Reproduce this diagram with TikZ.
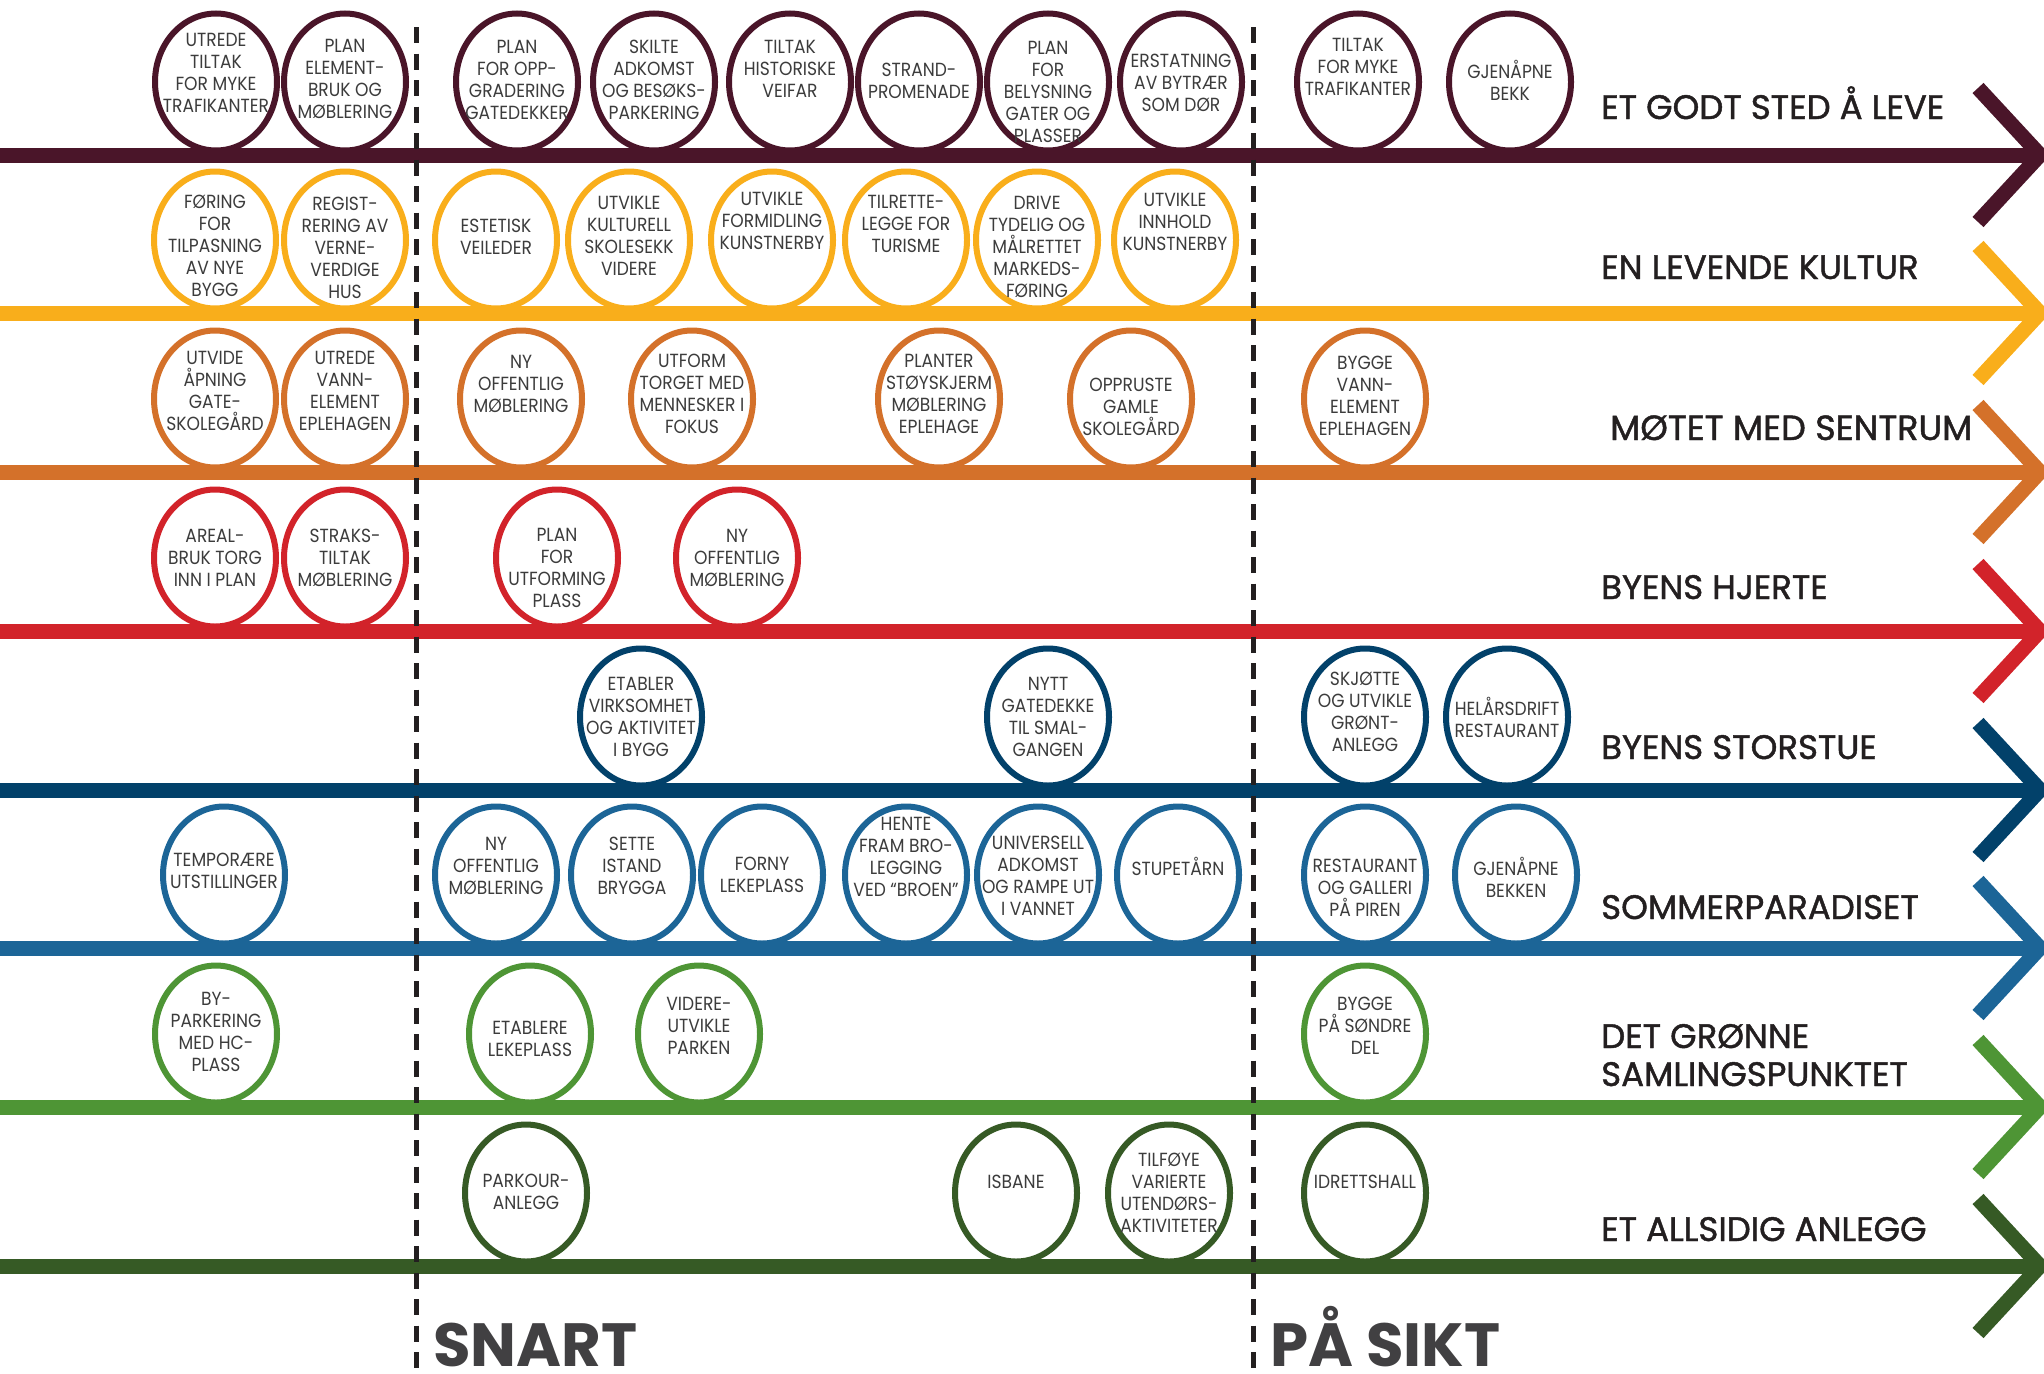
\documentclass[tikz,border=0pt]{standalone}
\usepackage{fontspec}
\setmainfont{Poppins}
\newfontfamily\ellfont{Poppins}[FakeStretch=0.9]
\newfontfamily\hdfont{Poppins}[FakeBold=1.3]
\usetikzlibrary{shapes.geometric,calc}
\definecolor{c1}{HTML}{4A1529}
\definecolor{c2}{HTML}{F9AE1B}
\definecolor{c3}{HTML}{D4712A}
\definecolor{c4}{HTML}{D2232A}
\definecolor{c5}{HTML}{02416A}
\definecolor{c6}{HTML}{1C6597}
\definecolor{c7}{HTML}{4E9535}
\definecolor{c8}{HTML}{365A25}
\definecolor{txtc}{HTML}{3C3C3C}
\definecolor{hdc}{HTML}{231F20}
\definecolor{bigc}{HTML}{414042}
\tikzset{
 ov/.style={ellipse, draw=#1, line width=6pt, fill=white, minimum width=122pt, minimum height=137pt, inner sep=0pt},
 tx/.style={align=center, inner sep=0pt, text=txtc, font=\ellfont\fontsize{19}{22}\selectfont},
 hd/.style={anchor=base west, inner sep=0pt, text=hdc, font=\hdfont\fontsize{34}{38}\selectfont},
 big/.style={anchor=base west, inner sep=0pt, text=bigc, font=\bfseries\fontsize{61}{70}\selectfont},
 rowline/.style={line width=15pt, draw=#1},
 timedash/.style={line width=5pt, draw=hdc, dash pattern=on 16pt off 10.5pt}
}
\newcommand\myov[6]{\node[ov=#2] (#1) at (#3,#4) {}; \node[tx] (#1t) at ($(#1)+(0,#5)$) {#6};}
\begin{document}
\begin{tikzpicture}[x=1pt,y=-1pt]
\useasboundingbox (0,0) rectangle (2044,1373);
\clip (0,0) rectangle (2044,1373);
\foreach \yy/\cc [count=\i] in {155/c1,313/c2,472/c3,631/c4,790/c5,948/c6,1107/c7,1266/c8}{
  \coordinate (ls\i) at (0,\yy);
  \coordinate (le\i) at (2032,\yy);
  \coordinate (ct\i) at (1978,\yy-67);
  \coordinate (cv\i) at (2040,\yy);
  \coordinate (cb\i) at (1978,\yy+67);
  \draw[rowline=\cc] (ls\i) -- (le\i);
  \draw[rowline=\cc] (ct\i) -- (cv\i) -- (cb\i);
}
% row 1
\myov{a1}{c1}{216}{82}{-9}{UTREDE\\TILTAK\\FOR MYKE\\TRAFIKANTER}
\myov{a2}{c1}{345}{82}{-3}{PLAN\\ELEMENT-\\BRUK OG\\MØBLERING}
\myov{a3}{c1}{517}{82}{-2}{PLAN\\FOR OPP-\\GRADERING\\GATEDEKKER}
\myov{a4}{c1}{654}{82}{-2}{SKILTE\\ADKOMST\\OG BESØKS-\\PARKERING}
\myov{a5}{c1}{790}{82}{-13}{TILTAK\\HISTORISKE\\VEIFAR}
\myov{a6}{c1}{919}{82}{-1}{STRAND-\\PROMENADE}
\myov{a7}{c1}{1048}{82}{10}{PLAN\\FOR\\BELYSNING\\GATER OG\\PLASSER}
\myov{a8}{c1}{1181}{82}{1}{ERSTATNING\\AV BYTRÆR\\SOM DØR}
\myov{a9}{c1}{1358}{82}{-15}{TILTAK\\FOR MYKE\\TRAFIKANTER}
\myov{a10}{c1}{1510}{82}{-2}{GJENÅPNE\\BEKK}
% row 2
\myov{b1}{c2}{215}{240}{6}{FØRING\\FOR\\TILPASNING\\AV NYE\\BYGG}
\myov{b2}{c2}{345}{240}{8}{REGIST-\\RERING AV\\VERNE-\\VERDIGE\\HUS}
\myov{b3}{c2}{496}{240}{-3}{ESTETISK\\VEILEDER}
\myov{b4}{c2}{629}{240}{-4}{UTVIKLE\\KULTURELL\\SKOLESEKK\\VIDERE}
\myov{b5}{c2}{772}{240}{-19}{UTVIKLE\\FORMIDLING\\KUNSTNERBY}
\myov{b6}{c2}{906}{240}{-16}{TILRETTE-\\LEGGE FOR\\TURISME}
\myov{b7}{c2}{1037}{240}{7}{DRIVE\\TYDELIG OG\\MÅLRETTET\\MARKEDS-\\FØRING}
\myov{b8}{c2}{1175}{240}{-18}{UTVIKLE\\INNHOLD\\KUNSTNERBY}
% row 3
\myov{c1}{c3}{215}{399}{-8}{UTVIDE\\ÅPNING\\GATE-\\SKOLEGÅRD}
\myov{c2}{c3}{345}{399}{-8}{UTREDE\\VANN-\\ELEMENT\\EPLEHAGEN}
\myov{c3}{c3}{521}{399}{-15}{NY\\OFFENTLIG\\MØBLERING}
\myov{c4}{c3}{692}{399}{-5}{UTFORM\\TORGET MED\\MENNESKER I\\FOKUS}
\myov{c5}{c3}{939}{399}{-5}{PLANTER\\STØYSKJERM\\MØBLERING\\EPLEHAGE}
\myov{c6}{c3}{1131}{399}{8}{OPPRUSTE\\GAMLE\\SKOLEGÅRD}
\myov{c7}{c3}{1365}{399}{-3}{BYGGE\\VANN-\\ELEMENT\\EPLEHAGEN}
% row 4
\myov{d1}{c4}{215}{558}{0}{AREAL-\\BRUK TORG\\INN I PLAN}
\myov{d2}{c4}{345}{558}{0}{STRAKS-\\TILTAK\\MØBLERING}
\myov{d3}{c4}{557}{558}{10}{PLAN\\FOR\\UTFORMING\\PLASS}
\myov{d4}{c4}{737}{558}{0}{NY\\OFFENTLIG\\MØBLERING}
% row 5
\myov{e1}{c5}{641}{717}{0}{ETABLER\\VIRKSOMHET\\OG AKTIVITET\\I BYGG}
\myov{e2}{c5}{1048}{717}{0}{NYTT\\GATEDEKKE\\TIL SMAL-\\GANGEN}
\myov{e3}{c5}{1365}{717}{-5}{SKJØTTE\\OG UTVIKLE\\GRØNT-\\ANLEGG}
\myov{e4}{c5}{1507}{717}{0}{HELÅRSDRIFT\\RESTAURANT}
% row 6
\myov{f1}{c6}{224}{875}{-4}{TEMPORÆRE\\UTSTILLINGER}
\myov{f2}{c6}{496}{875}{-9}{NY\\OFFENTLIG\\MØBLERING}
\myov{f3}{c6}{632}{875}{-9}{SETTE\\ISTAND\\BRYGGA}
\myov{f4}{c6}{762}{875}{0}{FORNY\\LEKEPLASS}
\myov{f5}{c6}{906}{875}{-18}{HENTE\\FRAM BRO-\\LEGGING\\VED “BROEN”}
\myov{f6}{c6}{1038}{875}{1}{UNIVERSELL\\ADKOMST\\OG RAMPE UT\\I VANNET}
\myov{f7}{c6}{1178}{875}{-9}{STUPETÅRN}
\myov{f8}{c6}{1365}{875}{13}{RESTAURANT\\OG GALLERI\\PÅ PIREN}
\myov{f9}{c6}{1516}{875}{2}{GJENÅPNE\\BEKKEN}
% row 7
\myov{g1}{c7}{216}{1034}{-2}{BY-\\PARKERING\\MED HC-\\PLASS}
\myov{g2}{c7}{530}{1034}{5}{ETABLERE\\LEKEPLASS}
\myov{g3}{c7}{699}{1034}{-8}{VIDERE-\\UTVIKLE\\PARKEN}
\myov{g4}{c7}{1365}{1034}{-8}{BYGGE\\PÅ SØNDRE\\DEL}
% row 8
\myov{h1}{c8}{526}{1193}{-1}{PARKOUR-\\ANLEGG}
\myov{h2}{c8}{1016}{1193}{-11}{ISBANE}
\myov{h3}{c8}{1169}{1193}{0}{TILFØYE\\VARIERTE\\UTENDØRS-\\AKTIVITETER}
\myov{h4}{c8}{1365}{1193}{-11}{IDRETTSHALL}
% time dividers
\coordinate (d1a) at (416,27); \coordinate (d1b) at (416,1373);
\coordinate (d2a) at (1253,27); \coordinate (d2b) at (1253,1373);
\draw[timedash] (d1a) -- (d1b);
\draw[timedash] (d2a) -- (d2b);
% headings
\node[hd] (t1) at (1601,119) {ET GODT STED Å LEVE};
\node[hd] (t2) at (1601,279) {EN LEVENDE KULTUR};
\node[hd, font=\hdfont\fontsize{35}{40}\selectfont] (t3) at (1610,440) {MØTET MED SENTRUM};
\node[hd] (t4) at (1601,599) {BYENS HJERTE};
\node[hd] (t5) at (1601,759) {BYENS STORSTUE};
\node[hd] (t6) at (1601,919) {SOMMERPARADISET};
\node[hd] (t7a) at (1601,1048) {DET GRØNNE};
\node[hd] (t7b) at (1601,1086) {SAMLINGSPUNKTET};
\node[hd] (t8) at (1601,1241) {ET ALLSIDIG ANLEGG};
\node[big] (snart) at (433,1366) {SNART};
\node[big] (pasikt) at (1270,1366) {PÅ SIKT};
\end{tikzpicture}
\end{document}
